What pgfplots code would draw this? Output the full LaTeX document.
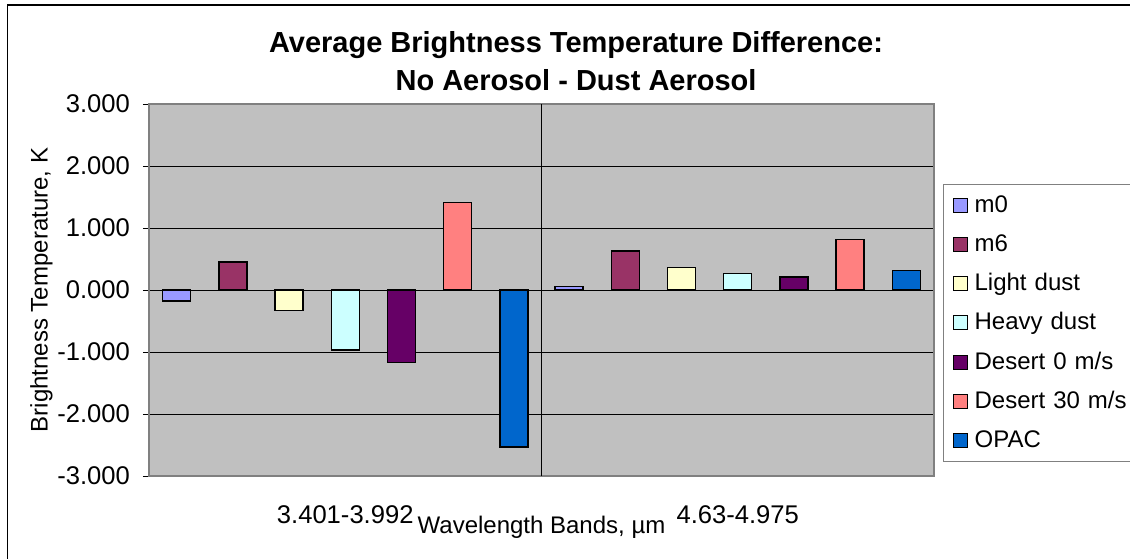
\documentclass[border=0pt]{standalone}
\usepackage{fontspec}
\setmainfont{Liberation Sans}
\usepackage{pgfplots}
\pgfplotsset{compat=1.18}
\definecolor{cMzero}{HTML}{9999FF}
\definecolor{cMsix}{HTML}{993366}
\definecolor{cLight}{HTML}{FFFFCC}
\definecolor{cHeavy}{HTML}{CCFFFF}
\definecolor{cDesZ}{HTML}{660066}
\definecolor{cDesT}{HTML}{FF8080}
\definecolor{cOpac}{HTML}{0066CC}
\definecolor{silverbg}{HTML}{C0C0C0}
\definecolor{framegray}{HTML}{808080}
\begin{document}
\begin{tikzpicture}
\useasboundingbox (0,0) rectangle (565pt,-279pt);
\draw[black, line width=0.7pt] (3.75pt,-2.4pt) rectangle (600pt,-300pt);
\begin{axis}[
  at={(74.5pt,-238pt)}, anchor=south west,
  scale only axis, width=392.5pt, height=186pt,
  ybar=14.1pt, bar width=14pt,
  xmin=-0.5, xmax=1.5, ymin=-3, ymax=3,
  xtick={0,1}, xticklabels={3.401-3.992, 4.63-4.975},
  major x tick style={draw=none},
  extra x ticks={0.5}, extra x tick labels={},
  extra x tick style={xmajorgrids=true, major x tick style={draw=none}},
  ytick={-3,-2,-1,0,1,2,3},
  ytick pos=left, tick align=outside, major tick length=3pt,
  major y tick style={black, line width=0.5pt},
  /pgf/number format/assume math mode=true,
  yticklabel style={/pgf/number format/fixed, /pgf/number format/fixed zerofill, /pgf/number format/precision=3, xshift=-3pt},
  tick label style={font=\fontsize{12.8}{15}\selectfont},
  xticklabel style={anchor=center, yshift=-16.5pt},
  ymajorgrids,
  major grid style={black, line width=0.5pt},
  axis line style={draw=framegray, line width=0.8pt},
  axis background/.style={fill=silverbg},
  title={Average Brightness Temperature Difference:\\No Aerosol - Dust Aerosol},
  title style={at={(0.544,1.084)}, anchor=center, align=center, font=\bfseries\fontsize{14.5}{19}\selectfont},
  ylabel={Brightness Temperature, K},
  ylabel style={at={(axis description cs:-0.137,0.5)}, anchor=center, font=\fontsize{12}{14}\selectfont},
  xlabel={Wavelength Bands, µm},
  xlabel style={at={(axis description cs:0.5,-0.138)}, anchor=center, font=\fontsize{12}{14}\selectfont},
  legend style={at={(1.0115,0.785)}, anchor=north west, draw=framegray, line width=0.6pt, fill=white,
    font=\fontsize{12}{14}\selectfont, row sep=5.5pt, column sep=1.5pt, inner xsep=4.5pt, inner ysep=3.5pt,
    /tikz/every even column/.append style={text width=82pt}},
  legend cell align=left,
  legend image code/.code={\draw[#1, draw=black, line width=0.5pt] (0pt,-3.5pt) rectangle (7pt,3.5pt);},
  every axis plot/.append style={draw=black, line width=0.7pt},
]
\addplot[fill=cMzero] coordinates {(0,-0.18) (1,0.06)};
\addplot[fill=cMsix] coordinates {(0,0.45) (1,0.63)};
\addplot[fill=cLight] coordinates {(0,-0.33) (1,0.36)};
\addplot[fill=cHeavy] coordinates {(0,-0.97) (1,0.27)};
\addplot[fill=cDesZ] coordinates {(0,-1.17) (1,0.21)};
\addplot[fill=cDesT] coordinates {(0,1.41) (1,0.81)};
\addplot[fill=cOpac] coordinates {(0,-2.53) (1,0.31)};
\legend{m0,m6,Light dust,Heavy dust,Desert 0 m/s,Desert 30 m/s,OPAC}
\end{axis}
\end{tikzpicture}
\end{document}
